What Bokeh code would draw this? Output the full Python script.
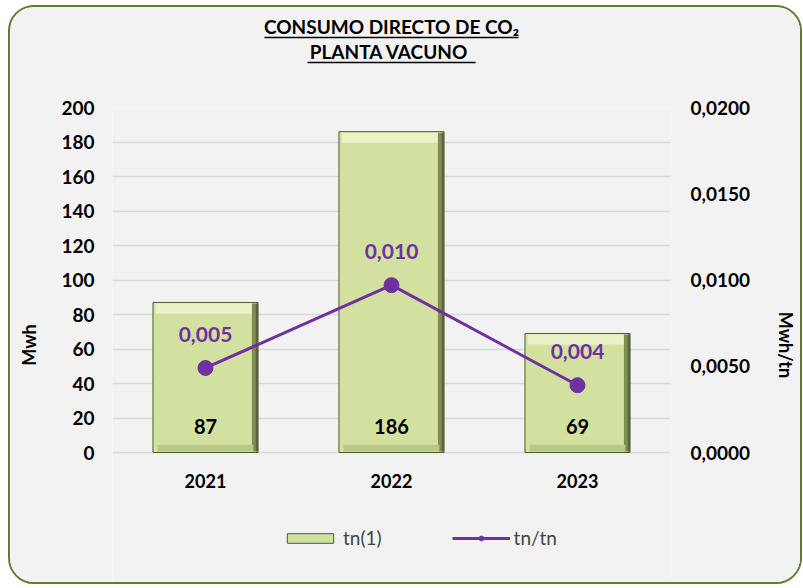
from bokeh.plotting import figure
from bokeh.models import (ColumnDataSource, FactorRange, Range1d, LinearAxis, FixedTicker,
                          Legend, LegendItem, LabelSet, Title)
from bokeh.core.properties import value
from bokeh.transform import dodge
from bokeh.embed import file_html
from bokeh.resources import INLINE

# ---- data ----
years = ["2021", "2022", "2023"]
tn = [87, 186, 69]                 # Mwh (left axis)
ratio = [0.0049, 0.0097, 0.0039]    # Mwh/tn (right axis)
left_ticks = [0, 20, 40, 60, 80, 100, 120, 140, 160, 180, 200]
right_ticks = [0.0, 0.005, 0.01, 0.015, 0.02]
right_tick_labels = ["0,0000", "0,0050", "0,0100", "0,0150", "0,0200"]
title_lines = ["CONSUMO DIRECTO DE CO\u2082", "PLANTA  VACUNO"]

FONT = "Lato"
PURPLE = "#7030a0"
BG = "#f2f2f2"

# layout geometry: value area is 345 px tall; 130 px extra below zero hold the
# category labels and the legend (kept inside the frame so they are not clipped)
VAL_PX, BELOW_PX = 345, 130
left_start = -200 * BELOW_PX / VAL_PX
right_start = -0.02 * BELOW_PX / VAL_PX

src = ColumnDataSource(dict(
    year=years, tn=tn, ratio=ratio,
    tn_lbl=[str(v) for v in tn],
    ratio_lbl=[f"{v:.3f}".replace(".", ",") for v in ratio],
))

p = figure(x_range=FactorRange(factors=years, range_padding=0),
           y_range=Range1d(left_start, 200),
           x_axis_location=None,
           frame_width=558, frame_height=VAL_PX + BELOW_PX,
           min_border_left=102, min_border_right=127,
           min_border_top=100, min_border_bottom=0,
           output_backend="svg", toolbar_location=None)
p.extra_y_ranges = {"right": Range1d(right_start, 0.02)}

p.background_fill_color = BG
p.border_fill_color = BG
p.outline_line_color = None
p.styles = {"border": "2px solid #5e7d32", "border-radius": "26px", "overflow": "hidden",
            "margin-left": "8px", "margin-top": "5px"}

# grid
p.xgrid.grid_line_color = None
p.yaxis.ticker = FixedTicker(ticks=left_ticks)
p.ygrid.grid_line_color = "#d9d9d9"
p.ygrid.grid_line_width = 1.5

# left axis
ax = p.yaxis[0]
ax.axis_line_color = None
ax.major_tick_line_color = None
ax.minor_tick_line_color = None
ax.major_label_text_font = FONT
ax.major_label_text_font_style = "bold"
ax.major_label_text_font_size = "19px"
ax.major_label_text_color = "#000000"
ax.major_label_standoff = 12
ax.axis_label = "Mwh"
ax.axis_label_text_font = FONT
ax.axis_label_text_font_style = "bold"
ax.axis_label_text_font_size = "18px"
ax.axis_label_text_color = "#000000"
ax.axis_label_standoff = 18

# right axis
rax = LinearAxis(y_range_name="right", ticker=FixedTicker(ticks=right_ticks),
                 major_label_overrides={t: l for t, l in zip(right_ticks, right_tick_labels)})
rax.axis_line_color = None
rax.major_tick_line_color = None
rax.minor_tick_line_color = None
rax.major_label_text_font = FONT
rax.major_label_text_font_style = "bold"
rax.major_label_text_font_size = "19px"
rax.major_label_text_color = "#000000"
rax.major_label_standoff = 14
rax.axis_label = "Mwh/tn"
rax.axis_label_text_font = FONT
rax.axis_label_text_font_style = "bold"
rax.axis_label_text_font_size = "18px"
rax.axis_label_text_color = "#000000"
rax.axis_label_standoff = 22
if hasattr(rax, "axis_label_orientation"):
    rax.axis_label_orientation = "vertical"
p.add_layout(rax, "right")

# bars with bevel effect
W = 0.565
bars = p.vbar(x="year", top="tn", width=W, source=src,
              fill_color="#d2e0a0", line_color="#4f5b2a", line_width=1)
p.vbar(x="year", top=dodge("tn", -0.6, range=p.y_range), bottom=dodge("tn", -6.5, range=p.y_range),
       width=W - 0.03, source=src, fill_color="#eaf2c8", line_color=None)
p.vbar(x=dodge("year", W / 2 - 0.018, range=p.x_range), top=dodge("tn", -0.6, range=p.y_range),
       bottom=0.6, width=0.03, source=src, fill_color="#7f8c52", line_color=None)
p.vbar(x=dodge("year", W / 2 - 0.006, range=p.x_range), top=dodge("tn", -0.6, range=p.y_range),
       bottom=0.6, width=0.012, source=src, fill_color="#59633a", line_color=None)
p.vbar(x="year", top=4.5, bottom=0.6, width=W - 0.05, source=src,
       fill_color="#b9c787", line_color=None)

# line
ln = p.line(x="year", y="ratio", y_range_name="right", source=src,
            line_color=PURPLE, line_width=3)
pts = p.scatter(x="year", y="ratio", y_range_name="right", source=src,
                size=15, fill_color=PURPLE, line_color=PURPLE)

# data labels
p.add_layout(LabelSet(x="year", y=0, y_offset=19, text="tn_lbl", source=src,
                      text_align="center", text_baseline="bottom",
                      text_font=value(FONT), text_font_style="bold", text_font_size="20px",
                      text_color="#000000"))
p.add_layout(LabelSet(x="year", y="ratio", y_range_name="right", y_offset=26, text="ratio_lbl",
                      source=src, text_align="center", text_baseline="bottom",
                      text_font=value(FONT), text_font_style="bold", text_font_size="21px",
                      text_color=PURPLE))

# category (year) labels under the zero line
p.add_layout(LabelSet(x="year", y=0, y_offset=-28, text="year", source=src,
                      text_align="center", text_baseline="middle",
                      text_font=value(FONT), text_font_style="bold", text_font_size="18px",
                      text_color="#000000"))

# ---- title stack in the "above" panel (added from the frame outward) ----
def underline(lo, hi):
    # axis line only, limited by bounds (synthetic category coordinates 0..3)
    a = LinearAxis(ticker=FixedTicker(ticks=[]), bounds=(lo, hi))
    a.axis_line_color = "#000000"
    a.axis_line_width = 1.5
    a.major_tick_line_color = None
    a.minor_tick_line_color = None
    a.major_label_text_font_size = "0px"
    a.major_label_standoff = 0
    return a

spacer = Title(text=" ", text_font_size="30px")
p.add_layout(spacer, "above")
p.add_layout(underline(1.046, 1.954), "above")
p.add_layout(Title(text=title_lines[1], align="center", text_font=FONT,
                   text_font_style="bold", text_font_size="19px", text_color="#000000",
                   standoff=0), "above")
p.add_layout(underline(0.817, 2.183), "above")
p.add_layout(Title(text=title_lines[0], align="center", text_font=FONT,
                   text_font_style="bold", text_font_size="19px", text_color="#000000",
                   standoff=0), "above")

# legend (inside the lower, value-free part of the frame)
legend = Legend(items=[LegendItem(label="tn(1)", renderers=[bars]),
                       LegendItem(label="tn/tn", renderers=[ln, pts])],
                orientation="horizontal", location=(169, 33),
                background_fill_alpha=0, border_line_color=None,
                label_text_font=FONT, label_text_font_size="19px",
                glyph_width=58, glyph_height=12, spacing=70,
                label_standoff=4, margin=0, padding=6)
p.add_layout(legend, "center")

open("out.html", "w").write(file_html(p, INLINE))
